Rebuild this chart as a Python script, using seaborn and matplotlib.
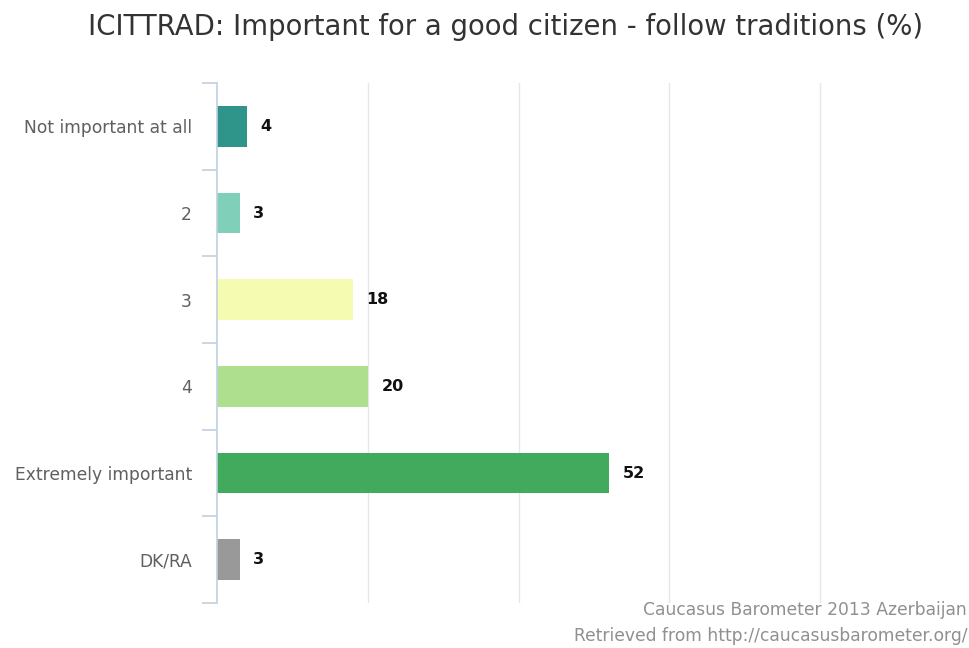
import matplotlib
matplotlib.use("Agg")
import matplotlib.pyplot as plt
import seaborn as sns
import pandas as pd
import numpy as np

categories = ["Not important at all", "2", "3", "4", "Extremely important", "DK/RA"]
values = [4, 3, 18, 20, 52, 3]
colors = ["#2f948a", "#7fcfb9", "#f5fbb0", "#addf8e", "#41aa5d", "#999999"]
title = "ICITTRAD: Important for a good citizen - follow traditions (%)"
source_lines = ["Caucasus Barometer 2013 Azerbaijan", "Retrieved from http://caucasusbarometer.org/"]

sns.set_theme(style="white")
plt.rcParams['font.family'] = ['DejaVu Sans']

df = pd.DataFrame({"category": categories, "value": values})

fig = plt.figure(figsize=(9.69, 6.48), dpi=100)
ax = fig.add_axes([217/969, 1 - 603/648, 1 - 217/969 + 0.002, (603 - 83)/648])

sns.barplot(data=df, x="value", y="category", hue="category",
            palette=dict(zip(categories, colors)), order=categories,
            hue_order=categories, legend=False, width=0.47, ax=ax,
            saturation=1, edgecolor="none")

ax.set_xlim(0, 100)
ax.set_ylim(len(categories) - 0.5, -0.5)
ax.set_xticks([20, 40, 60, 80, 100])
ax.set_xticklabels([])
ax.tick_params(axis="x", length=0)
ax.xaxis.grid(True, color="#e6e6e6", linewidth=1)
ax.set_axisbelow(True)

ax.set_yticks(range(len(categories)))
ax.set_yticklabels(categories, fontsize=12.3, color="#606060")
ax.tick_params(axis="y", which="major", left=False, length=0, pad=18)
ax.set_yticks(np.arange(-0.5, len(categories), 1.0), minor=True)
ax.tick_params(axis="y", which="minor", left=True, length=11, color="#c0d0e0", width=1.2)
ax.set_xlabel("")
ax.set_ylabel("")

for s in ["top", "right", "bottom"]:
    ax.spines[s].set_visible(False)
ax.spines["left"].set_color("#c0d0e0")
ax.spines["left"].set_linewidth(1.2)

for i, v in enumerate(values):
    ax.text(v + 1.8, i, str(v), va="center", ha="left", fontsize=11.5,
            fontweight="bold", color="#111111")

fig.text(0.5 + 21/969, 1 - 27/648, title, ha="center", va="center", fontsize=19.8, color="#333333")
fig.text(1 - 2/969, 1 - 610/648, source_lines[0], ha="right", va="center", fontsize=12.3, color="#909090")
fig.text(1 - 2/969, 1 - 636/648, source_lines[1], ha="right", va="center", fontsize=12.3, color="#909090")

fig.savefig("out.png", dpi=100)
